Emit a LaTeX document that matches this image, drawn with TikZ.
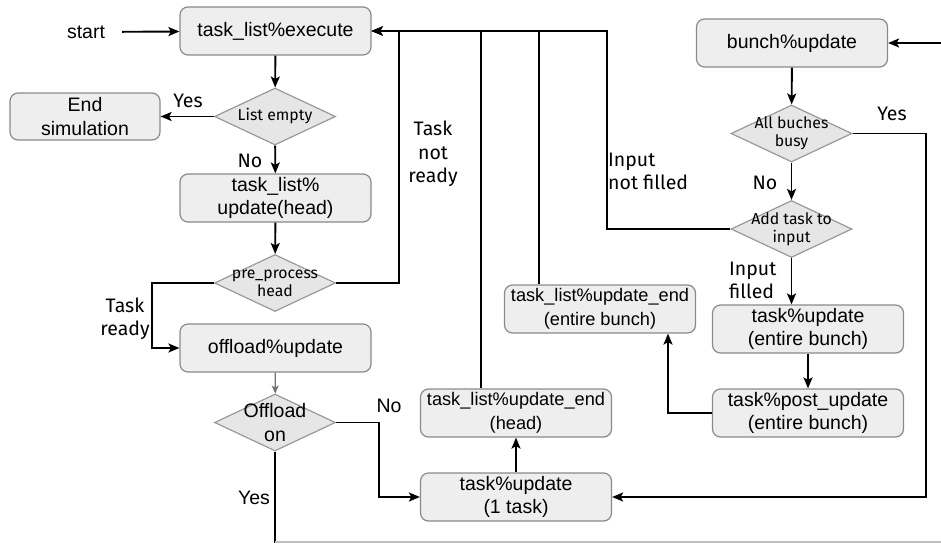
\documentclass[tikz,border=0pt]{standalone}
\usepackage{fontspec}
\setmainfont{Liberation Sans}
\newfontfamily\fira{Fira Sans}
\usetikzlibrary{shapes.geometric,arrows.meta,calc}

\definecolor{boxfill}{HTML}{EEEEEE}
\definecolor{boxline}{HTML}{8A8A8A}
\definecolor{diafill}{HTML}{E6E6E6}
\definecolor{dialine}{HTML}{999999}

\tikzset{
  box/.style={rectangle, rounded corners=8pt, draw=boxline, fill=boxfill,
    line width=1.2pt, minimum width=191pt, minimum height=48pt, inner sep=0pt,
    align=center, font=\fontsize{19.5}{23.5}\selectfont},
  smallbox/.style={box, font=\fontsize{18.2}{23.5}\selectfont},
  decision/.style={diamond, draw=dialine, fill=diafill, line width=1.2pt,
    minimum width=121pt, minimum height=57pt, inner sep=0pt},
  dtext/.style={align=center, inner sep=0pt, font=\fira\fontsize{15.8}{18}\selectfont},
  btext/.style={align=center, inner sep=0pt, font=\fontsize{19.5}{23.5}\selectfont},
  lbl/.style={inner sep=0pt, align=center, font=\fira\fontsize{19.5}{23.5}\selectfont},
  lblL/.style={inner sep=0pt, align=left, font=\fira\fontsize{19.5}{23}\selectfont},
  plain/.style={inner sep=0pt, align=center, font=\fontsize{19.5}{23.5}\selectfont},
  arr/.style={line width=1.9pt, -{Stealth[length=11pt,width=9pt,inset=2.5pt]}},
  wire/.style={line width=1.9pt},
  grayarr/.style={line width=1.2pt, -{Stealth[length=8pt,width=7pt,inset=2pt]}, draw=gray!90!black, fill=gray!90!black},
}

\begin{document}
\begin{tikzpicture}[x=1pt, y=-1pt]
\useasboundingbox (0,0) rectangle (941,543);

% left column
\node[plain] (start) at (86,32) {start};
\node[box] (exec) at (275.5,31) {task\_list\%execute};
\node[box, minimum width=150pt, minimum height=47pt] (endsim) at (85,116.5) {End\\simulation};
\node[decision] (empty) at (275,116.5) {};
\node[dtext] at (empty) {List empty};
\node[box] (upd) at (275.5,198) {task\_list\%\\update(head)};
\node[decision] (pre) at (275,283) {};
\node[dtext] at (pre) {pre\_process\\head};
\node[box] (offl) at (275.5,348) {offload\%update};
\node[decision] (offon) at (275,422.5) {};
\node[btext] at (offon) {Offload\\on};

% middle column
\node[smallbox] (endh) at (516,413) {task\_list\%update\_end\\(head)};
\node[box] (one) at (516,497) {task\%update\\(1 task)};
\node[smallbox] (endb) at (600,309) {task\_list\%update\_end\\(entire bunch)};

% right column
\node[box] (bunch) at (792,43) {bunch\%update};
\node[decision] (busy) at (791.5,133.5) {};
\node[dtext] at (busy) {All buches\\busy};
\node[decision] (add) at (791.5,229) {};
\node[dtext] at (add) {Add task to\\input};
\node[box] (tb) at (808,329) {task\%update\\(entire bunch)};
\node[box] (post) at (808,413) {task\%post\_update\\(entire bunch)};

\coordinate (feed) at (941,43);
\coordinate (bottom) at (275,543);

% connectors, left column
\draw[arr, shorten <=17pt] (start) -- (exec);
\draw[arr] (exec) -- (empty);
\draw[arr] (empty.west) -- (endsim.east);
\draw[arr] (empty) -- (upd);
\draw[arr] (upd) -- (pre);
\draw[arr] (pre.west) -- ++(-62,0) |- (offl.west);
\draw[arr] (pre.east) -| ($(exec.east)+(27,0)$) -- (exec.east);
\draw[grayarr] (offl) -- (offon);
\draw[arr] (offon.east) -- ++(43,0) |- (one.west);
\draw[wire] (offon.south) -- (bottom);
\draw[line width=1.2pt, draw=black!25] ($(bottom)+(0,-1)$) -- ++(666,0);

% connectors, middle column
\draw[arr] (one) -- (endh);
\draw[arr] ([xshift=-35pt]endh.north) |- (exec.east);
\draw[arr] ([xshift=-61pt]endb.north) |- (exec.east);
\draw[arr] (add.west) -| ($(exec.east)+(235,0)$) -- (exec.east);

% connectors, right column
\draw[arr] (feed) -- (bunch.east);
\draw[arr] (bunch) -- (busy);
\draw[arr] (busy) -- (add);
\draw[arr] (busy.east) -- ++(73,0) |- (one.east);
\draw[arr] (add.south) -- (add.south |- tb.north);
\draw[arr] (tb.south) -- (post.north);
\draw[arr] (post.west) -| ([xshift=68pt]endb.south);

% branch labels
\node[lbl] at (188,101) {Yes};
\node[lbl] at (250,161) {No};
\node[lbl] at (125,319) {Task\\ready};
\node[lbl] at (433,154) {Task\\not\\ready};
\node[plain] at (389,406) {No};
\node[plain] at (254,498) {Yes};
\node[lblL, anchor=west] at (608,171) {Input\\not filled};
\node[lbl] at (892,114) {Yes};
\node[lbl] at (765,183) {No};
\node[lblL, anchor=west] at (729,280) {Input\\filled};
\end{tikzpicture}
\end{document}
